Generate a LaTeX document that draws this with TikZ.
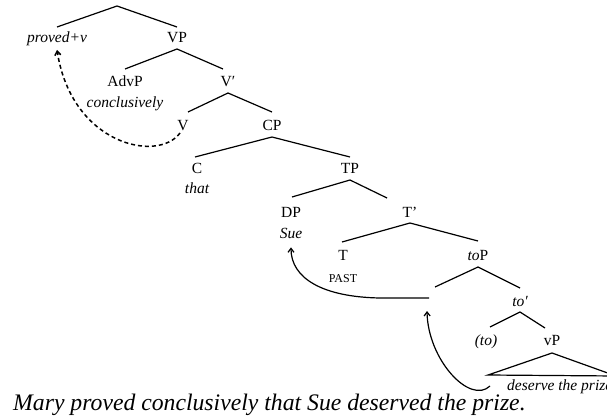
\documentclass[tikz,border=0pt]{standalone}
\usepackage{fontspec}
\setmainfont{Liberation Serif}
\usetikzlibrary{arrows.meta}
\begin{document}
\begin{tikzpicture}[x=1pt,y=-1pt,
  lbl/.style={inner sep=0pt, anchor=base, font=\fontsize{15.5}{18}\selectfont},
  small/.style={inner sep=0pt, anchor=base, font=\fontsize{12}{14}\selectfont},
  br/.style={line width=1.2pt},
  mv/.style={line width=1.2pt, -{Straight Barb[length=4pt,width=6pt]}},
  dmv/.style={line width=1.5pt, dash pattern=on 4pt off 3pt, -{Straight Barb[length=4pt,width=6pt]}},
]
\useasboundingbox (0,0) rectangle (607,417);
\clip (0,0) rectangle (607,417);

% labels
\node[lbl] (pv) at (57,43) {\itshape proved+v};
\node[lbl] (VP) at (177,43) {VP};
\node[lbl] (AdvP) at (125,87) {AdvP};
\node[lbl] (concl) at (125,107) {\itshape conclusively};
\node[lbl] (Vbar) at (228,87) {V′};
\node[lbl] (V) at (183,130) {V};
\node[lbl] (CP) at (272,130) {CP};
\node[lbl] (C) at (197,173) {C};
\node[lbl] (that) at (197,193) {\itshape that};
\node[lbl] (TP) at (350,173) {TP};
\node[lbl] (DP) at (291,217) {DP};
\node[lbl] (Sue) at (291,238) {\itshape Sue};
\node[lbl] (Tbar) at (410,217) {T’};
\node[lbl] (T) at (343,260) {T};
\node[small] (past) at (343,282) {PAST};
\node[lbl] (toP) at (478,260) {\textit{to}P};
\node[lbl] (tobar) at (520,306) {\itshape to′};
\node[lbl] (to) at (486,345) {\itshape (to)};
\node[lbl] (vP) at (552,345) {vP};
\node[lbl, anchor=base west] (dtp) at (507,390) {\itshape deserve the prize};
\node[inner sep=0pt, anchor=base west, font=\fontsize{23.7}{28}\selectfont\itshape] (sent) at (13,410)
  {Mary proved conclusively that Sue deserved the prize.};

% branch points
\coordinate (r0) at (117,6);   \coordinate (r1) at (57,27);   \coordinate (r2) at (177,27);
\coordinate (a0) at (177,49);  \coordinate (a1) at (125,69);  \coordinate (a2) at (223,69);
\coordinate (b0) at (228,93);  \coordinate (b1) at (188,112); \coordinate (b2) at (272,112);
\coordinate (c0) at (272,137); \coordinate (c1) at (195,157); \coordinate (c2) at (350,157);
\coordinate (d0) at (350,180); \coordinate (d1) at (292,197); \coordinate (d2) at (387,198);
\coordinate (e0) at (410,223); \coordinate (e1) at (342,242); \coordinate (e2) at (478,241);
\coordinate (f0) at (478,267); \coordinate (f1) at (435,287); \coordinate (f2) at (520,288);
\coordinate (g0) at (520,312); \coordinate (g1) at (490,327); \coordinate (g2) at (545,328);
\coordinate (h0) at (552,353); \coordinate (h1) at (488,375); \coordinate (h2) at (616,376);

\draw[br] (r1) -- (r0) -- (r2);
\draw[br] (a1) -- (a0) -- (a2);
\draw[br] (b1) -- (b0) -- (b2);
\draw[br] (c1) -- (c0) -- (c2);
\draw[br] (d1) -- (d0) -- (d2);
\draw[br] (e1) -- (e0) -- (e2);
\draw[br] (f1) -- (f0) -- (f2);
\draw[br] (g1) -- (g0) -- (g2);
\draw[br] (h0) -- (h1) -- (h2) -- cycle;

% movement arrows
\coordinate (tr) at (429,298);
\coordinate (tb) at (380,298);
\draw[mv] (tr) -- (tb) .. controls (322,297) and (291,278) .. ([yshift=-9pt]Sue.south);
\coordinate (vs) at (490,386);
\coordinate (ts) at (427,311);
\draw[mv] (vs) .. controls (470,405) and (428,360) .. (ts);
\coordinate (vd) at (180,133);
\coordinate (pd) at (57,50);
\draw[dmv] (vd) .. controls (158,163) and (72,145) .. (pd);
\end{tikzpicture}
\end{document}
